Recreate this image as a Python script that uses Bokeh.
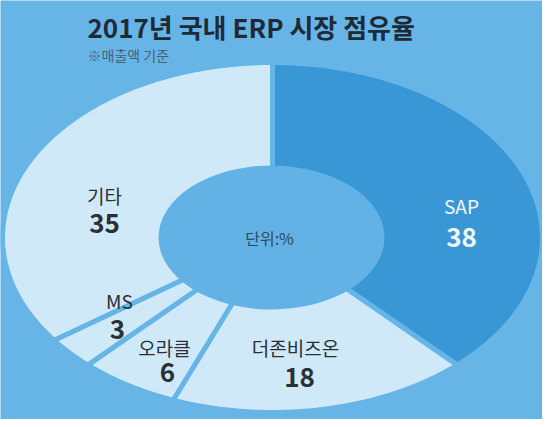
import numpy as np
from bokeh.plotting import figure
from bokeh.models import Range1d, ColumnDataSource
from bokeh.core.properties import value
from bokeh.embed import file_html
from bokeh.resources import INLINE

# ---- data ----
companies = ["SAP", "더존비즈온", "오라클", "MS", "기타"]
shares = [38, 18, 6, 3, 35]
title_text = "2017년 국내 ERP 시장 점유율"
subtitle_text = "※매출액 기준"
center_text = "단위:%"

# ---- layout / style ----
W, H = 542, 419
CX, CY = 280, 245          # ellipse centre (page pixels)
RX, RY = 270, 175          # outer semi-axes
IRX, IRY = 113, 72         # inner hole semi-axes
BG = "#67b5e7"
HOLE = "#63b2e5"
slice_colors = ["#3a97d6", "#cfe9f9", "#cfe9f9", "#cfe9f9", "#cfe9f9"]
name_pos = [(469, 213), (303, 355), (172, 355), (127, 308), (112, 203)]
val_pos = [(469, 245), (307, 385), (175, 380), (125, 337), (112, 231)]
text_colors = ["#eef7fd", "#2b3037", "#2b3037", "#2b3037", "#2b3037"]
FONT = "Noto Sans CJK KR"

p = figure(width=W, height=H, output_backend="svg", toolbar_location=None,
           x_range=Range1d(8, 8 + W), y_range=Range1d(8 + H, 8),
           min_border=0)
p.axis.visible = False
p.grid.visible = False
p.outline_line_color = None
p.background_fill_color = BG
p.border_fill_color = BG

# wedges built from the share values
total = float(sum(shares))
cum = np.concatenate([[0], np.cumsum(shares)]) / total
xs, ys = [], []
for i in range(len(shares)):
    a0 = np.pi / 2 - 2 * np.pi * cum[i]
    a1 = np.pi / 2 - 2 * np.pi * cum[i + 1]
    th = np.linspace(a0, a1, 120)
    xs.append([CX] + list(CX + RX * np.cos(th)) + [CX])
    ys.append([CY] + list(CY - RY * np.sin(th)) + [CY])
p.patches(xs=xs, ys=ys, fill_color=slice_colors, line_color=BG, line_width=5,
          line_join="miter")

# inner hole
p.ellipse(x=[CX - 1], y=[CY], width=[2 * IRX], height=[2 * IRY],
          fill_color=HOLE, line_color=None)

# labels
src = ColumnDataSource(dict(
    nx=[q[0] for q in name_pos], ny=[q[1] for q in name_pos],
    vx=[q[0] for q in val_pos], vy=[q[1] for q in val_pos],
    name=companies, val=[str(s) for s in shares], col=text_colors))
p.text(x="nx", y="ny", text="name", source=src, text_color="col",
       text_font=value(FONT), text_font_size="19px",
       text_align="center", text_baseline="middle")
p.text(x="vx", y="vy", text="val", source=src, text_color="col",
       text_font=value(FONT), text_font_size="26px", text_font_style="bold",
       text_align="center", text_baseline="middle")

p.text(x=[CX - 3], y=[CY], text=[center_text], text_color="#2d4a63",
       text_font=value(FONT), text_font_size="16px",
       text_align="center", text_baseline="middle")

# title + subtitle
p.text(x=[95], y=[34], text=[title_text], text_color="#1e2b36",
       text_font=value(FONT), text_font_size="26px", text_font_style="bold",
       text_align="left", text_baseline="middle")
p.text(x=[95], y=[62], text=[subtitle_text], text_color="#4a6072",
       text_font=value(FONT), text_font_size="14px",
       text_align="left", text_baseline="middle")

open("out.html", "w").write(file_html(p, INLINE))
